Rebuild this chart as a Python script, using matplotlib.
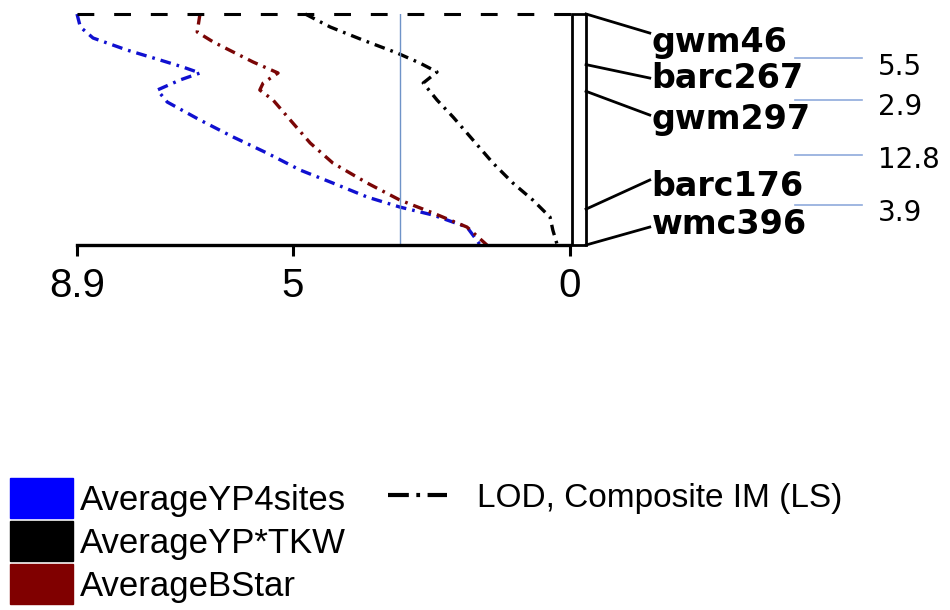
import numpy as np
import matplotlib
matplotlib.use("Agg")
import matplotlib.pyplot as plt
from matplotlib.patches import Patch, Rectangle
from matplotlib.lines import Line2D

plt.rcParams['font.family'] = ['Liberation Sans', 'DejaVu Sans']

# marker map (intervals in cM between neighbouring markers)
markers = ['gwm46', 'barc267', 'gwm297', 'barc176', 'wmc396']
intervals = [5.5, 2.9, 12.8, 3.9]
marker_cm = np.concatenate([[0], np.cumsum(intervals)])

# LOD profiles: (position cM, LOD)
yp4_cm = [0.0, 1.41, 2.61, 3.91, 5.0, 5.76, 6.41, 7.17, 8.26, 9.57, 11.52, 13.37,
          15.11, 16.96, 18.37, 19.89, 20.98, 21.85, 23.15, 25.1]
yp4_lod = [8.9, 8.84, 8.61, 8.0, 7.4, 6.99, 6.68, 7.04, 7.45, 7.27, 6.68, 6.08,
           5.47, 4.87, 4.28, 3.66, 3.07, 2.47, 1.86, 1.62]

bstar_cm = [0.0, 1.96, 3.04, 5.22, 6.41, 7.5, 8.26, 9.35, 11.52, 14.02, 16.2,
            18.37, 20.22, 21.63, 23.15, 25.1]
bstar_lod = [6.68, 6.73, 6.44, 5.72, 5.27, 5.54, 5.6, 5.36, 5.05, 4.69, 4.28,
             3.66, 3.07, 2.47, 1.86, 1.5]

tkw_cm = [0.0, 1.41, 2.83, 4.24, 5.33, 6.3, 7.5, 9.35, 11.2, 13.7, 16.2, 18.37,
          20.22, 22.07, 23.48, 25.1]
tkw_lod = [4.78, 4.33, 3.74, 3.12, 2.71, 2.4, 2.65, 2.4, 2.11, 1.75, 1.39, 1.03,
           0.67, 0.36, 0.31, 0.23]

threshold = 3.07
lod_max = 8.9
xticks = [8.9, 5, 0]
xticklabels = ['8.9', '5', '0']

legend_names = ['AverageYP4sites', 'AverageYP*TKW', 'AverageBStar']
legend_colors = ['#0000ff', '#000000', '#800000']

fig = plt.figure(figsize=(9.5, 6.1), dpi=100)
ax = fig.add_axes([77/950, 1 - 245/610, 493/950, 231/610])
ax.set_xlim(lod_max, 0)
ax.set_ylim(marker_cm[-1], 0)

dd = (0, (3.2, 1.8, 0.8, 1.8))
ax.plot(yp4_lod, yp4_cm, color='#1010d0', lw=2.4, ls=dd, clip_on=False)
ax.plot(bstar_lod, bstar_cm, color='#7a0606', lw=2.4, ls=dd, clip_on=False)
ax.plot(tkw_lod, tkw_cm, color='black', lw=2.4, ls=dd, clip_on=False)

ax.axhline(0, color='black', lw=2.2, ls=(0, (5.5, 6.5)), xmax=1.004, clip_on=False)
ax.axvline(threshold, color='#6f93c8', lw=1)

for s in ['left', 'right', 'top']:
    ax.spines[s].set_visible(False)
ax.spines['bottom'].set_linewidth(2.4)
ax.set_yticks([])
ax.set_xticks(xticks)
ax.set_xticklabels(xticklabels, fontsize=29)
ax.tick_params(axis='x', length=8, width=2.2, pad=8)

# chromosome bar, in LOD units just right of 0
bar_l, bar_r = -0.04, -0.29
ax.add_patch(Rectangle((bar_r, 0), bar_l - bar_r, marker_cm[-1], fill=False,
                       ec='black', lw=2, clip_on=False))

# label spread (cM units on the same scale)
line_end = [2.07, 6.96, 10.98, 18.04, 23.15]
text_y = [3.15, 7.0, 11.5, 18.7, 22.9]
for m, cm, le, ty in zip(markers, marker_cm, line_end, text_y):
    ax.plot([bar_r, -1.44], [cm, le], color='black', lw=2, clip_on=False)
    ax.text(-1.47, ty, m, fontsize=24, fontweight='bold', family='DejaVu Sans',
            va='center', ha='left')

sep_y = [4.78, 9.35, 15.33, 20.76]
val_y = [5.76, 10.1, 15.9, 21.6]
for i, v in enumerate(intervals):
    ax.plot([-4.06, -5.27], [sep_y[i], sep_y[i]], color='#8faadc', lw=1.2,
            clip_on=False)
    ax.text(-5.56, val_y[i], str(v), fontsize=20, family='DejaVu Sans',
            va='center', ha='left')

h1 = [Patch(facecolor=c, edgecolor=c) for c in legend_colors]
fig.legend(h1, legend_names, loc='upper left',
           bbox_to_anchor=(10/950, 1 - 478/610), frameon=False,
           fontsize=25, handlelength=1.81, handleheight=1.395,
           labelspacing=0.09, handletextpad=0.2, borderpad=0,
           borderaxespad=0)
h2 = [Line2D([], [], color='black', lw=3, ls=(0, (5, 1.8, 0.9, 1.8)))]
fig.legend(h2, ['LOD, Composite IM (LS)'], loc='center left',
           bbox_to_anchor=(388/950, 1 - 498/610), frameon=False, fontsize=24,
           handlelength=1.77, handletextpad=0.9, borderpad=0, borderaxespad=0)

fig.savefig('out.png', dpi=100)
